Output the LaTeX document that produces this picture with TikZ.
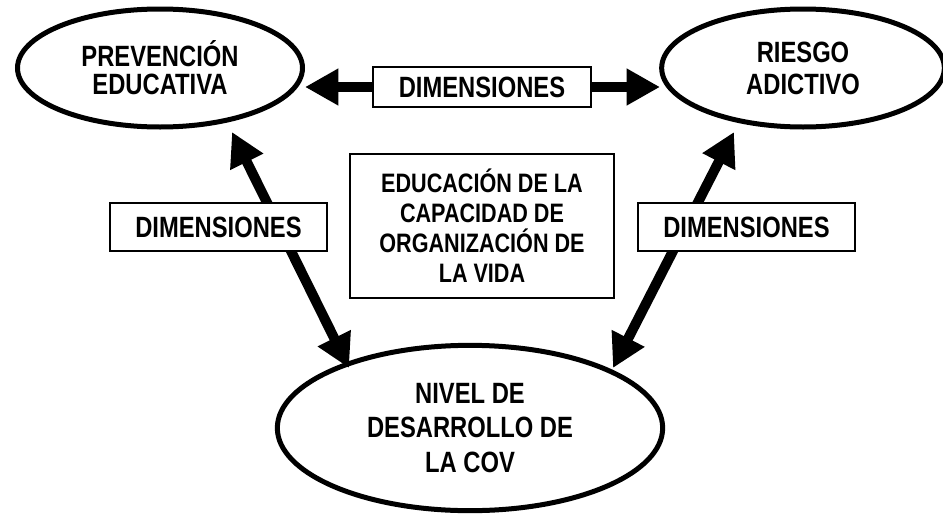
\documentclass[tikz,border=0pt]{standalone}
\usepackage{fontspec}
\setmainfont{Liberation Sans}[FakeStretch=0.81]
\usetikzlibrary{arrows.meta,shapes.geometric}
\begin{document}
\begin{tikzpicture}[x=0.75pt,y=-0.75pt,
  oval/.style={ellipse, draw, line width=3.75pt, inner sep=0pt, align=center},
  boxed/.style={draw, fill=white, line width=1.2pt, inner sep=0pt, align=center},
  txt/.style={font=\fontsize{22}{21}\selectfont\bfseries},
  bigarrow/.style={line width=7.5pt, -{Triangle[length=25pt,width=26pt]}},
  bigdouble/.style={line width=7.5pt, {Triangle[length=25pt,width=26pt]}-{Triangle[length=25pt,width=26pt]}}
]
\useasboundingbox (0,0) rectangle (943,518);

% ellipses
\node[oval, minimum width=213.75pt, minimum height=88.5pt, font=\fontsize{22}{21}\selectfont\bfseries] (pe) at (160,68) {PREVENCIÓN\\EDUCATIVA};
\node[oval, minimum width=212pt, minimum height=88.5pt, font=\fontsize{22}{24}\selectfont\bfseries] (ra) at (803,68) {RIESGO\\ADICTIVO};
\node[oval, minimum width=289pt, minimum height=124pt, font=\fontsize{22}{26}\selectfont\bfseries] (nd) at (470,428) {NIVEL DE\\DESARROLLO DE\\LA COV};

% diagonal arrows (behind boxes)
\coordinate (a1) at (232,132);
\coordinate (a2) at (349,368);
\coordinate (b1) at (734,132);
\coordinate (b2) at (613,368);
\draw[bigdouble] (a1) -- (a2);
\draw[bigdouble] (b1) -- (b2);

% boxes
\node[boxed, txt, minimum width=163.5pt, minimum height=30pt] (dt) at (482,87) {DIMENSIONES};
\node[boxed, txt, minimum width=162.75pt, minimum height=36pt] (dl) at (218.5,227) {DIMENSIONES};
\node[boxed, txt, minimum width=162.75pt, minimum height=36pt] (dr) at (746.5,227) {DIMENSIONES};
\node[boxed, minimum width=198pt, minimum height=108pt, font=\fontsize{20}{22.5}\selectfont\bfseries] (ce) at (482,226) {EDUCACIÓN DE LA\\CAPACIDAD DE\\ORGANIZACIÓN DE\\LA VIDA};

% horizontal arrows
\coordinate (t1) at (305,87);
\coordinate (t2) at (660,87);
\draw[bigarrow] (dt.west) -- (t1);
\draw[bigarrow] (dt.east) -- (t2);
\end{tikzpicture}
\end{document}
